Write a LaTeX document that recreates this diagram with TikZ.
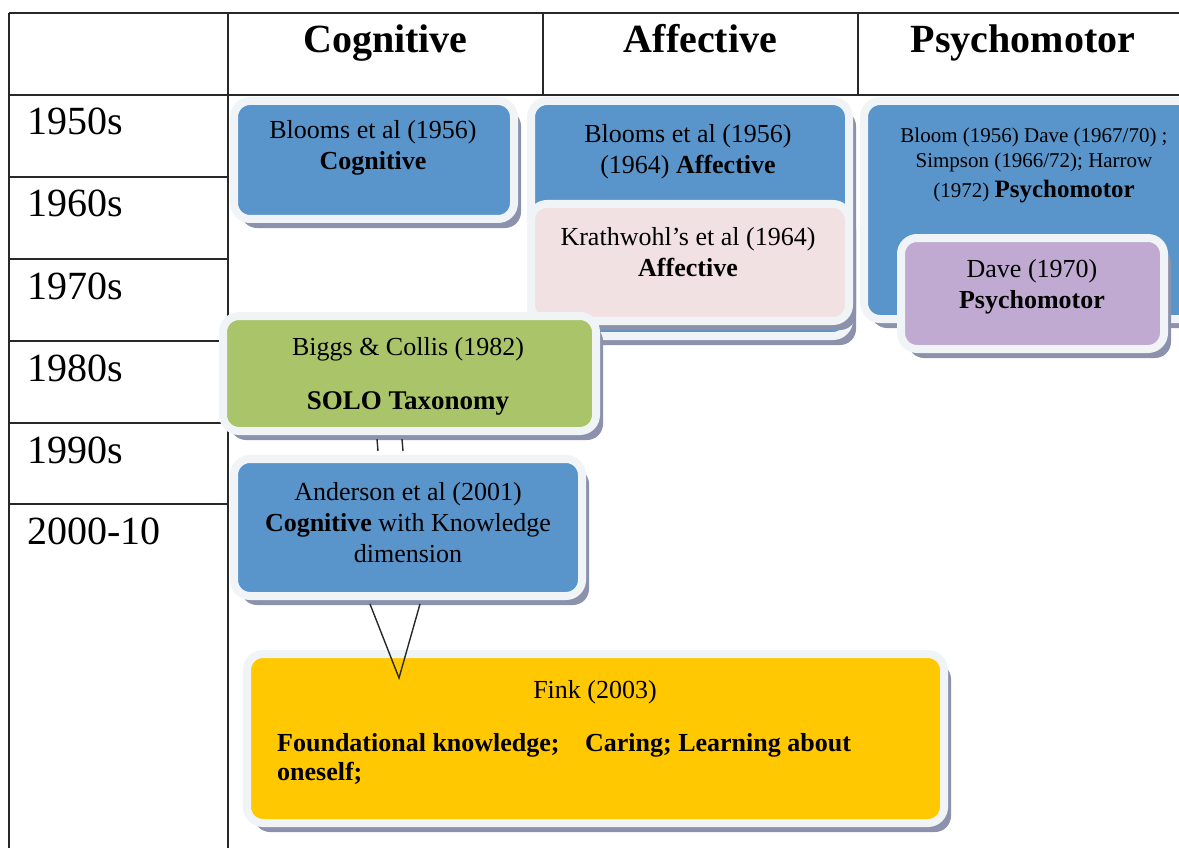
\documentclass[tikz,border=0pt]{standalone}
\usepackage{fontspec}
\setmainfont{Liberation Serif}
\usetikzlibrary{shadows}
\definecolor{cblue}{RGB}{89,149,203}
\definecolor{cpink}{RGB}{242,225,226}
\definecolor{cpurple}{RGB}{192,170,209}
\definecolor{cgreen}{RGB}{170,196,106}
\definecolor{cgold}{RGB}{255,200,0}
\definecolor{cborder}{RGB}{241,244,247}
\definecolor{cshadow}{RGB}{140,146,172}
\definecolor{cline}{RGB}{40,40,40}
\begin{document}
\begin{tikzpicture}[x=1pt,y=-1pt,
  tline/.style={draw=cline,line width=1.3pt},
  yr/.style={anchor=base west,inner sep=0pt,font=\fontsize{40}{48}\selectfont},
  hdr/.style={anchor=base,inner sep=0pt,font=\fontsize{40}{48}\selectfont\bfseries},
  tbox/.style={draw=cborder,line width=8pt,rounded corners=16pt,
    drop shadow={shadow xshift=7pt,shadow yshift=-9pt,fill=cshadow,opacity=1}},
  txt/.style={anchor=base,inner sep=0pt,font=\fontsize{26}{31}\selectfont},
  conn/.style={draw=cline,line width=1.4pt}]
\useasboundingbox (0,0) rectangle (1179,848);
\clip (0,0) rectangle (1179,848);
% table grid
\draw[tline] (9,13) -- (1179,13);
\draw[tline] (9,95) -- (1179,95);
\draw[tline] (9,13) -- (9,848);
\draw[tline] (228,13) -- (228,848);
\draw[tline] (543,13) -- (543,95);
\draw[tline] (858,13) -- (858,95);
\foreach \yy in {177,259,341,423,504} \draw[tline] (9,\yy) -- (228,\yy);
% headers
\node[hdr] (hcog) at (385.5,53) {Cognitive};
\node[hdr] (haff) at (700.5,53) {Affective};
\node[hdr] (hpsy) at (1023,53) {Psychomotor};
% years
\node[yr] (y50) at (27,135) {1950s};
\node[yr] (y60) at (27,217) {1960s};
\node[yr] (y70) at (27,299) {1970s};
\node[yr] (y80) at (27,381) {1980s};
\node[yr] (y90) at (27,463) {1990s};
\node[yr] (y00) at (27,544) {2000-10};
% psychomotor boxes
\node[tbox,fill=cblue,minimum width=331pt,minimum height=218pt] (psy) at (1029.5,210) {};
\node[txt,font=\fontsize{21}{25}\selectfont] (tpsy) at (1034,143) {\begin{tabular}[t]{@{}c@{}}Bloom (1956) Dave (1967/70) ;\\Simpson (1966/72); Harrow\\[5pt](1972) {\fontsize{25}{30}\selectfont\bfseries Psychomotor}\end{tabular}};
\node[tbox,fill=cpurple,minimum width=263pt,minimum height=111pt] (dave) at (1032.5,293.5) {};
\node[txt] (tdave) at (1032,277) {\begin{tabular}[t]{@{}c@{}}Dave (1970)\\\textbf{Psychomotor}\end{tabular}};
% affective boxes
\node[tbox,fill=cblue,minimum width=318pt,minimum height=235pt] (aff) at (690,218.5) {};
\node[txt] (taff) at (688,143) {\begin{tabular}[t]{@{}c@{}}Blooms et al (1956)\\(1964) \textbf{Affective}\end{tabular}};
\node[tbox,fill=cpink,minimum width=318pt,minimum height=117pt] (krath) at (690,262.5) {};
\node[txt] (tkrath) at (688,245) {\begin{tabular}[t]{@{}c@{}}Krathwohl’s et al (1964)\\\textbf{Affective}\end{tabular}};
% cognitive boxes
\node[tbox,fill=cblue,minimum width=280pt,minimum height=118pt] (cog) at (374,160) {};
\node[txt] (tcog) at (373,139) {\begin{tabular}[t]{@{}c@{}}Blooms et al (1956)\\\textbf{Cognitive}\end{tabular}};
\node[tbox,fill=cgreen,minimum width=373pt,minimum height=115pt] (solo) at (409.5,373.5) {};
\node[txt] (tsolo) at (408,355) {\begin{tabular}[t]{@{}c@{}}Biggs \& Collis (1982)\\[23pt]{\fontsize{27}{31}\selectfont\bfseries SOLO Taxonomy}\end{tabular}};
\node[tbox,fill=cblue,minimum width=348pt,minimum height=137pt] (and) at (408,527.5) {};
\node[txt] (tand) at (408,500) {\begin{tabular}[t]{@{}c@{}}Anderson et al (2001)\\\textbf{Cognitive} with Knowledge\\dimension\end{tabular}};
\node[tbox,fill=cgold,minimum width=697pt,minimum height=169pt] (fink) at (595.5,738.5) {};
\node[txt] (tfink) at (595,698) {Fink (2003)};
\node[txt,anchor=base west,font=\fontsize{26}{29}\selectfont\bfseries] (tfink2) at (277,751) {\begin{tabular}[t]{@{}l@{}}Foundational knowledge;\hspace{19pt} Caring; Learning about\\oneself;\end{tabular}};
% connectors
\draw[conn] ([xshift=-32.5pt,yshift=-4pt]solo.south) -- ([xshift=-30pt,yshift=4pt]and.north);
\draw[conn] ([xshift=-7.5pt,yshift=-4pt]solo.south) -- ([xshift=-5pt,yshift=4pt]and.north);
\coordinate (vtip) at (399,678);
\draw[conn,line join=miter] ([xshift=-38pt,yshift=-4pt]and.south) -- (vtip) -- ([xshift=12pt,yshift=-4pt]and.south);
\end{tikzpicture}
\end{document}
